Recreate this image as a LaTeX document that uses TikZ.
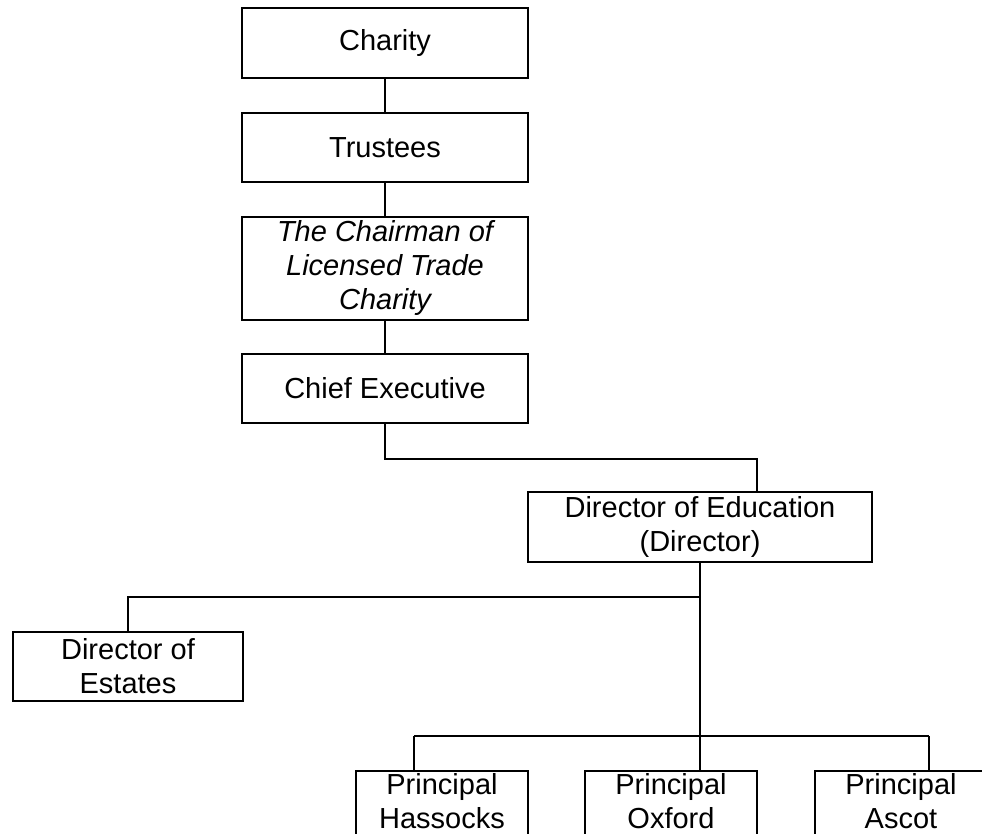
\documentclass[tikz,border=0pt]{standalone}
\usepackage{fontspec}
\setmainfont{Liberation Sans}
\begin{document}
\begin{tikzpicture}[x=1pt,y=-1pt,
  box/.style={draw=black, line width=2pt, fill=white, inner sep=0pt, align=center,
    font=\fontsize{29}{34}\selectfont},
  topbox/.style={box, minimum width=286pt},
  princ/.style={box, minimum width=172pt, minimum height=66pt, text depth=6pt},
  conn/.style={draw=black, line width=2pt}]
\useasboundingbox (0,0) rectangle (982,834);
\clip (0,0) rectangle (982,834);
\fill[white] (0,0) rectangle (982,834);
\coordinate (b1) at (700,597);
\coordinate (hl) at (414,736);
\coordinate (hr) at (929,736);
\node[topbox, minimum height=70pt] (charity) at (385,43) {Charity};
\node[topbox, minimum height=69pt] (trustees) at (385,147.5) {Trustees};
\node[topbox, minimum height=103pt] (chair) at (385,268.5) {\itshape The Chairman of\\\itshape Licensed Trade\\\itshape Charity};
\node[topbox, minimum height=69pt] (chief) at (385,388.5) {Chief Executive};
\node[box, minimum width=344pt, minimum height=70pt] (dired) at (700,527) {Director of Education\\(Director)};
\node[box, minimum width=230pt, minimum height=69pt] (estates) at (128,666.5) {Director of\\Estates};
\node[princ] (hassocks) at (442,804) {Principal\\Hassocks};
\node[princ] (oxford) at (671,804) {Principal\\Oxford};
\node[princ] (ascot) at (901,804) {Principal\\Ascot};
\draw[conn] (charity.south) -- (trustees.north);
\draw[conn] (trustees.south) -- (chair.north);
\draw[conn] (chair.south) -- (chief.north);
\draw[conn] (chief.south) -- ++(0,35) -| ([xshift=57pt]dired.north);
\draw[conn] (dired.south) -- (dired.south |- oxford.north);
\draw[conn] (b1) -| (estates.north);
\draw[conn] (hl) -- (hr);
\draw[conn] (hl) -- (hl |- hassocks.north);
\draw[conn] (hr) -- (hr |- ascot.north);
\end{tikzpicture}
\end{document}
